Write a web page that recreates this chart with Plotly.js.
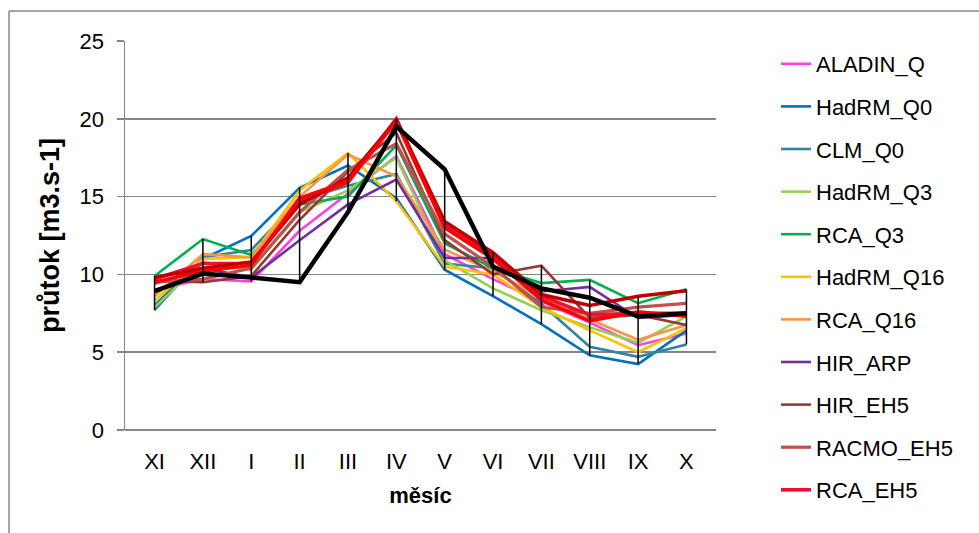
<!DOCTYPE html>
<html>
<head>
<meta charset="utf-8">
<script src="https://cdn.plot.ly/plotly-3.0.1.min.js"></script>
<style>
  html, body { margin: 0; padding: 0; background: #ffffff; }
  #chart { width: 979px; height: 533px; }
</style>
</head>
<body>
<div id="chart"></div>
<script>
// ---- data ----
const months = ['XI','XII','I','II','III','IV','V','VI','VII','VIII','IX','X'];

const seriesNames = ['ALADIN_Q','HadRM_Q0','CLM_Q0','HadRM_Q3','RCA_Q3','HadRM_Q16','RCA_Q16','HIR_ARP','HIR_EH5','RACMO_EH5','RCA_EH5'];

const aladinQ   = [9.0, 9.7, 9.55, 12.8, 15.2, 17.6, 11.3, 9.7, 8.25, 6.9, 5.45, 6.2];
const hadrmQ0   = [8.0, 11.0, 12.47, 15.57, 17.0, 14.9, 10.3, 8.6, 6.8, 4.8, 4.24, 6.4];
const clmQ0     = [7.7, 11.1, 11.57, 14.8, 15.7, 16.45, 10.7, 10.4, 8.1, 5.35, 4.7, 5.5];
const hadrmQ3   = [7.9, 10.8, 10.3, 14.0, 15.4, 17.5, 10.9, 9.1, 7.7, 6.6, 5.6, 7.3];
const rcaQ3     = [9.9, 12.27, 11.25, 14.5, 15.0, 18.3, 12.0, 10.4, 9.44, 9.65, 8.15, 9.04];
const hadrmQ16  = [8.3, 11.0, 11.1, 15.4, 17.8, 14.7, 10.5, 10.0, 7.9, 6.4, 5.0, 6.55];
const rcaQ16    = [8.6, 11.3, 11.1, 15.0, 17.7, 16.3, 11.6, 10.2, 8.5, 7.1, 5.8, 6.75];
const hirArp    = [9.4, 10.4, 9.8, 12.2, 14.5, 16.1, 11.05, 11.05, 8.9, 9.2, 7.2, 7.4];
const hirEh5    = [9.6, 9.5, 9.9, 13.5, 16.6, 19.1, 12.2, 10.0, 10.56, 7.2, 7.4, 6.75];
const racmoEh5  = [9.5, 9.7, 10.4, 14.0, 16.7, 18.4, 12.6, 10.5, 7.9, 7.5, 7.9, 8.14];
const rcaEh5    = [9.7, 10.7, 10.7, 14.7, 15.9, 20.0, 13.2, 11.2, 8.6, 7.4, 7.5, 7.5];
// further red model runs visible in the plot (their legend entries are cut off)
const extraRedA = [9.8, 10.4, 10.8, 14.5, 16.2, 19.9, 13.4, 11.4, 8.7, 8.0, 8.6, 8.95];
const extraRedB = [9.5, 10.2, 10.6, 14.9, 16.0, 19.8, 13.0, 11.0, 8.35, 7.0, 7.6, 7.3];
// thick black line
const observed  = [8.93, 10.05, 9.8, 9.5, 14.0, 19.5, 16.75, 10.5, 9.1, 8.5, 7.3, 7.5];

const modelValues = [aladinQ, hadrmQ0, clmQ0, hadrmQ3, rcaQ3, hadrmQ16, rcaQ16, hirArp, hirEh5, racmoEh5, rcaEh5];
const colors = ['#FF40E0','#0070C0','#31859C','#92D050','#00B050','#FFC000','#F79646','#7030A0','#953735','#C0504D','#EE1030'];
const widths = [2.6,2.6,2.6,2.6,2.6,2.6,2.6,2.6,2.6,3.2,3.6];

// ---- traces ----
const traces = [];
modelValues.forEach((vals, i) => {
  traces.push({
    x: months, y: vals, type: 'scatter', mode: 'lines',
    name: seriesNames[i], legendgroup: 'g' + i,
    line: { color: colors[i], width: widths[i] },
    hoverinfo: 'skip'
  });
});
traces.push({ x: months, y: extraRedA, type: 'scatter', mode: 'lines', showlegend: false,
  line: { color: '#C00000', width: 3.6 }, hoverinfo: 'skip' });
traces.push({ x: months, y: extraRedB, type: 'scatter', mode: 'lines', showlegend: false,
  line: { color: '#FF0000', width: 3.4 }, hoverinfo: 'skip' });

// range bars: min..max over all lines
const allSeries = modelValues.concat([extraRedA, extraRedB, observed]);
const maxVals = months.map((m, j) => Math.max(...allSeries.map(s => s[j])));
const minVals = months.map((m, j) => Math.min(...allSeries.map(s => s[j])));

traces.push({
  x: months, y: observed, type: 'scatter', mode: 'lines', showlegend: false,
  line: { color: '#000000', width: 4.5 },
  error_y: {
    type: 'data', symmetric: false,
    array: observed.map((v, j) => maxVals[j] - v),
    arrayminus: observed.map((v, j) => v - minVals[j]),
    width: 0, thickness: 1.5, color: '#000000'
  },
  hoverinfo: 'skip'
});

// ---- layout ----
const L = 125, R = 716, T = 41, B = 430;
const px2x = p => (p - L) / (R - L);
const px2y = p => (B - p) / (B - T);
const font = 'Liberation Sans, Arial, sans-serif';

const layout = {
  width: 979, height: 533,
  margin: { l: L, r: 979 - R, t: T, b: 533 - B, pad: 0 },
  paper_bgcolor: '#ffffff', plot_bgcolor: '#ffffff',
  font: { family: font, size: 22, color: '#000000' },
  showlegend: true,
  legend: {
    x: px2x(776), y: px2y(43), xanchor: 'left', yanchor: 'top',
    font: { family: font, size: 22, color: '#000000' },
    tracegroupgap: 11, bgcolor: 'rgba(0,0,0,0)', borderwidth: 0,
    maxheight: 1000
  },
  xaxis: {
    type: 'category', categoryorder: 'array', categoryarray: months,
    showgrid: false, showline: false, zeroline: false, ticks: '',
    tickfont: { family: font, size: 22, color: '#000000' },
    ticklabelstandoff: 16,
    title: { text: 'měsíc', font: { family: font, size: 22, weight: 'bold', color: '#000000' }, standoff: 14 }
  },
  yaxis: {
    range: [0, 25], dtick: 5, tick0: 0,
    showgrid: true, gridcolor: '#868686', gridwidth: 1.5,
    zeroline: true, zerolinecolor: '#868686', zerolinewidth: 1.5,
    showline: true, linecolor: '#868686', linewidth: 1.5,
    ticks: 'outside', ticklen: 7, tickcolor: '#868686', tickwidth: 1.5,
    tickfont: { family: font, size: 22, color: '#000000' },
    ticklabelstandoff: 8,
    title: { text: 'průtok [m3.s-1]', font: { family: font, size: 27, weight: 'bold', color: '#000000' }, standoff: 12 }
  },
  shapes: [
    { type: 'line', xref: 'paper', yref: 'paper', x0: px2x(9), x1: px2x(9), y0: px2y(11), y1: px2y(560),
      line: { color: '#898989', width: 1.5 } },
    { type: 'line', xref: 'paper', yref: 'paper', x0: px2x(9), x1: px2x(1000), y0: px2y(11), y1: px2y(11),
      line: { color: '#898989', width: 1.5 } }
  ]
};

Plotly.newPlot('chart', traces, layout, { staticPlot: true, displayModeBar: false });
</script>
</body>
</html>
